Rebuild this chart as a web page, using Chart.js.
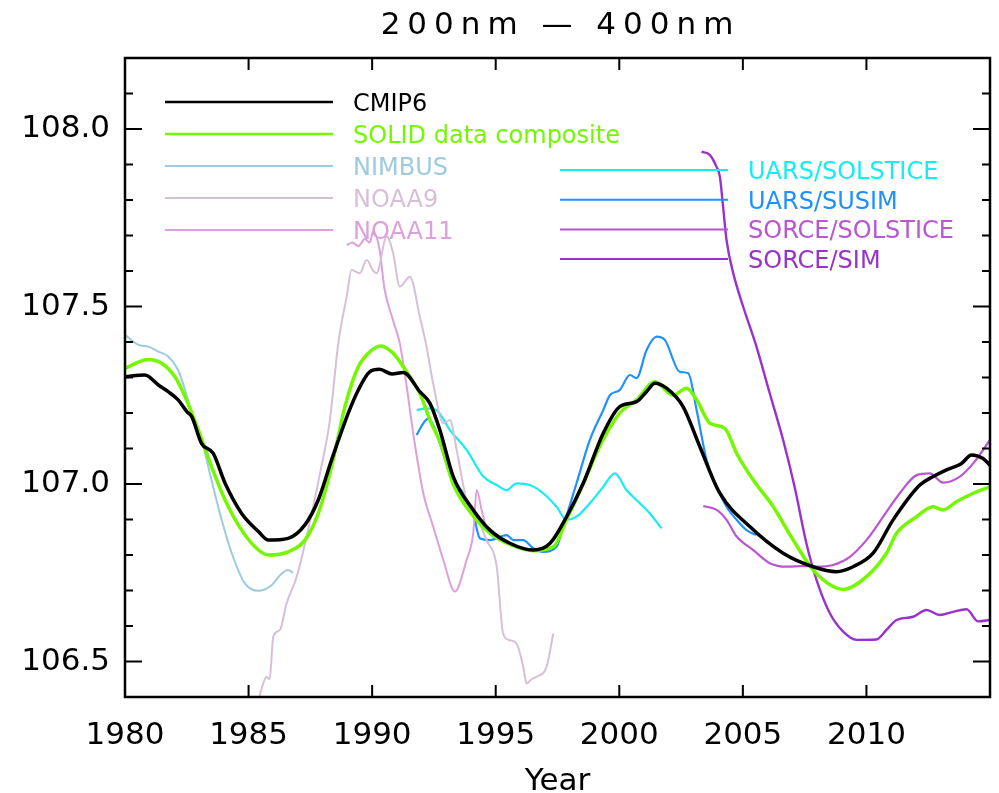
<!DOCTYPE html>
<html lang="en">
<head>
  <meta charset="UTF-8">
  <title>200nm - 400nm</title>
  <script src="https://cdn.jsdelivr.net/npm/chart.js"></script>
  <style>
    html, body { margin: 0; padding: 0; background: #fff; }
    #wrap { width: 999px; height: 793px; }
  </style>
</head>
<body>
  <div id="wrap"><canvas id="uvChart" width="999" height="793"></canvas></div>

  <script>
    // [year, irradiance] pairs for each record
    const cmip6 = [
      [1980, 107.302], [1980.8, 107.307], [1981.35, 107.279], [1981.75, 107.26], [1982.15, 107.237],
      [1982.5, 107.204], [1982.7, 107.19], [1983.1, 107.114], [1983.57, 107.086], [1984.05, 107.002],
      [1984.72, 106.917], [1985.4, 106.866], [1985.8, 106.842], [1986.6, 106.847], [1987.28, 106.885],
      [1987.82, 106.955], [1988.36, 107.068], [1989.03, 107.199], [1989.44, 107.265], [1989.9, 107.316],
      [1990.3, 107.323], [1990.8, 107.31], [1991.26, 107.314], [1991.93, 107.26], [1992.34, 107.227],
      [1992.74, 107.152], [1993.28, 107.021], [1994.09, 106.927], [1994.77, 106.87], [1995.57, 106.833],
      [1996.52, 106.814], [1997.2, 106.833], [1997.87, 106.908], [1998.54, 107.002], [1999.35, 107.143],
      [2000.02, 107.218], [2000.7, 107.232], [2001.1, 107.26], [2001.44, 107.284], [2001.91, 107.27],
      [2002.58, 107.218], [2003.26, 107.105], [2004.07, 106.974], [2005.28, 106.88], [2006.63, 106.805],
      [2007.84, 106.767], [2008.79, 106.753], [2009.46, 106.767], [2010.27, 106.805], [2011.08, 106.899],
      [2012.16, 106.997], [2012.7, 107.021], [2013.24, 107.04], [2013.85, 107.058], [2014.25, 107.082],
      [2014.72, 107.072], [2015, 107.053]
    ];

    const solid = [
      [1980, 107.326], [1980.95, 107.351], [1981.48, 107.34], [1982.02, 107.302], [1982.43, 107.246],
      [1982.97, 107.152], [1983.5, 107.049], [1984.05, 106.955], [1984.72, 106.87], [1985.4, 106.814],
      [1985.8, 106.8], [1986.6, 106.809], [1987.28, 106.842], [1987.82, 106.917], [1988.36, 107.049],
      [1988.9, 107.218], [1989.44, 107.33], [1989.98, 107.377], [1990.35, 107.389], [1990.85, 107.368],
      [1991.26, 107.33], [1991.93, 107.255], [1992.4, 107.17], [1992.74, 107.12], [1993.28, 107.0],
      [1994.09, 106.91], [1994.77, 106.861], [1995.57, 106.83], [1996.52, 106.812], [1997.33, 106.823],
      [1997.87, 106.9], [1998.54, 107.0], [1999.2, 107.105], [2000.02, 107.2], [2000.7, 107.237],
      [2001.44, 107.288], [2002.18, 107.25], [2002.72, 107.27], [2003.13, 107.237], [2003.67, 107.171],
      [2004.27, 107.157], [2004.75, 107.086], [2005.42, 107.011], [2006.23, 106.936], [2007.04, 106.842],
      [2007.84, 106.758], [2008.65, 106.711], [2009.06, 106.703], [2010.0, 106.739], [2010.81, 106.805],
      [2011.22, 106.861], [2012.03, 106.908], [2012.7, 106.936], [2013.1, 106.927], [2013.64, 106.95],
      [2014.32, 106.974], [2015, 106.992]
    ];

    const nimbus = [
      [1980, 107.42], [1980.54, 107.392], [1980.95, 107.387], [1981.35, 107.373], [1981.75, 107.359],
      [1982.15, 107.321], [1982.43, 107.265], [1982.7, 107.199], [1983.1, 107.124], [1983.5, 107.011],
      [1983.91, 106.899], [1984.32, 106.805], [1984.85, 106.72], [1985.4, 106.699], [1985.93, 106.715],
      [1986.34, 106.748], [1986.6, 106.758], [1986.8, 106.75]
    ];

    const noaa9 = [
      [1985.43, 106.40], [1985.73, 106.457], [1985.85, 106.45], [1986.0, 106.57], [1986.27, 106.589],
      [1986.54, 106.664], [1986.95, 106.739], [1987.35, 106.852], [1987.89, 107.03], [1988.29, 107.18],
      [1988.63, 107.396], [1988.97, 107.528], [1989.17, 107.603], [1989.5, 107.594], [1989.78, 107.631],
      [1990.05, 107.6], [1990.18, 107.594], [1990.59, 107.697], [1990.85, 107.65], [1991.12, 107.556],
      [1991.53, 107.584], [1991.93, 107.471], [1992.2, 107.387], [1992.47, 107.283], [1992.88, 107.171],
      [1993.15, 107.18], [1993.42, 107.096], [1993.82, 106.955], [1994.23, 106.908], [1994.63, 106.842],
      [1995.04, 106.767], [1995.3, 106.579], [1995.57, 106.56], [1995.85, 106.55], [1996.11, 106.486],
      [1996.25, 106.438], [1996.45, 106.45], [1996.65, 106.457], [1997.06, 106.486], [1997.33, 106.579]
    ];

    const noaa11 = [
      [1988.97, 107.673], [1989.2, 107.68], [1989.45, 107.67], [1989.7, 107.69], [1989.9, 107.68],
      [1990.04, 107.711], [1990.3, 107.66], [1990.5, 107.55], [1990.85, 107.46], [1991.12, 107.396],
      [1991.4, 107.274], [1991.66, 107.143], [1992.07, 106.974], [1992.47, 106.88], [1992.88, 106.786],
      [1993.35, 106.697], [1993.82, 106.786], [1994.09, 106.861], [1994.23, 106.983], [1994.43, 106.927],
      [1994.63, 106.87]
    ];

    const uarsSolstice = [
      [1991.8, 107.208], [1992.2, 107.213], [1992.6, 107.208], [1993.15, 107.152], [1993.82, 107.096],
      [1994.5, 107.021], [1995.04, 106.997], [1995.44, 106.983], [1995.85, 107.002], [1996.38, 106.997],
      [1996.92, 106.974], [1997.46, 106.936], [1997.87, 106.899], [1998.27, 106.908], [1998.81, 106.946],
      [1999.35, 106.992], [1999.82, 107.03], [2000.29, 106.983], [2000.83, 106.946], [2001.24, 106.917],
      [2001.71, 106.875]
    ];

    const uarsSusim = [
      [1991.8, 107.138], [1992.07, 107.171], [1992.27, 107.185], [1992.47, 107.166], [1992.74, 107.115],
      [1993.15, 107.03], [1993.68, 106.974], [1994.09, 106.917], [1994.36, 106.847], [1994.77, 106.842],
      [1995.44, 106.856], [1995.71, 106.842], [1996.11, 106.842], [1996.52, 106.819], [1996.92, 106.809],
      [1997.46, 106.823], [1997.73, 106.88], [1998.27, 107.002], [1998.81, 107.124], [1999.35, 107.208],
      [1999.62, 107.25], [2000.02, 107.265], [2000.43, 107.307], [2000.7, 107.298], [2001.1, 107.377],
      [2001.51, 107.415], [2001.84, 107.406], [2002.45, 107.316], [2002.79, 107.312], [2003.13, 107.208],
      [2003.53, 107.068], [2003.94, 106.992], [2004.34, 106.936], [2004.75, 106.899], [2005.15, 106.87],
      [2005.55, 106.856]
    ];

    const sorceSolstice = [
      [2003.4, 106.938], [2003.94, 106.927], [2004.34, 106.899], [2004.75, 106.852], [2005.42, 106.814],
      [2006.09, 106.777], [2006.77, 106.767], [2007.44, 106.769], [2008.11, 106.767], [2008.65, 106.772],
      [2009.33, 106.795], [2010.0, 106.842], [2010.68, 106.908], [2011.35, 106.974], [2012.03, 107.025],
      [2012.56, 107.03], [2013.1, 107.004], [2013.78, 107.021], [2014.32, 107.058], [2015, 107.124]
    ];

    const sorceSim = [
      [2003.33, 107.936], [2003.66, 107.927], [2003.93, 107.894], [2004.07, 107.866], [2004.2, 107.781],
      [2004.34, 107.687], [2004.61, 107.594], [2005.01, 107.5], [2005.55, 107.387], [2006.09, 107.255],
      [2006.63, 107.124], [2007.1, 106.99], [2007.57, 106.833], [2007.98, 106.73], [2008.52, 106.636],
      [2009.06, 106.584], [2009.6, 106.561], [2010.4, 106.562], [2010.81, 106.589], [2011.22, 106.617],
      [2011.89, 106.626], [2012.43, 106.645], [2012.97, 106.631], [2013.51, 106.64], [2014.05, 106.647],
      [2014.52, 106.613], [2015, 106.617]
    ];

    const xTickYears = [1980, 1985, 1990, 1995, 2000, 2005, 2010];
    const yTickValues = [106.5, 107.0, 107.5, 108.0];

    const FONT = "'DejaVu Sans', sans-serif";

    function toPoints(pairs) {
      return pairs.map(p => ({ x: p[0], y: p[1] }));
    }

    function series(label, pairs, color, width) {
      return {
        label: label,
        data: toPoints(pairs),
        borderColor: color,
        backgroundColor: color,
        borderWidth: width,
        pointRadius: 0,
        cubicInterpolationMode: 'monotone',
        fill: false
      };
    }

    // two legend columns drawn inside the plot box
    const legendLeft = ['CMIP6', 'SOLID data composite', 'NIMBUS', 'NOAA9', 'NOAA11'];
    const legendRight = ['UARS/SOLSTICE', 'UARS/SUSIM', 'SORCE/SOLSTICE', 'SORCE/SIM'];

    const boxPlugin = {
      id: 'idlBox',
      afterDraw(chart) {
        const ctx = chart.ctx;
        const a = chart.chartArea;
        const xs = chart.scales.x;
        const ys = chart.scales.y;

        ctx.save();
        ctx.strokeStyle = '#000';
        ctx.lineWidth = 2.5;
        ctx.strokeRect(a.left, a.top, a.right - a.left, a.bottom - a.top);

        // inward tick marks on all four sides
        ctx.lineWidth = 2;
        ctx.beginPath();
        xTickYears.forEach(v => {
          const px = xs.getPixelForValue(v);
          ctx.moveTo(px, a.bottom); ctx.lineTo(px, a.bottom - 12);
          ctx.moveTo(px, a.top); ctx.lineTo(px, a.top + 12);
        });
        for (let i = 0; i <= 18; i++) {
          const v = 106.4 + i * 0.1;
          const py = ys.getPixelForValue(v);
          const major = Math.abs(v * 2 - Math.round(v * 2)) < 1e-6;
          const len = major ? 17 : 8;
          ctx.moveTo(a.left, py); ctx.lineTo(a.left + len, py);
          ctx.moveTo(a.right, py); ctx.lineTo(a.right - len, py);
        }
        ctx.stroke();

        // title and x axis name
        ctx.fillStyle = '#000';
        ctx.textAlign = 'center';
        ctx.textBaseline = 'alphabetic';
        ctx.font = '31px ' + FONT;
        ctx.letterSpacing = '7px';
        ctx.fillText('200nm \u2014 400nm', (a.left + a.right) / 2 + 3, 34);
        ctx.letterSpacing = '0px';
        ctx.fillText('Year', (a.left + a.right) / 2, 790);

        // legend
        ctx.font = '24px ' + FONT;
        ctx.textAlign = 'left';
        const sets = chart.data.datasets;
        const drawEntry = (ds, y, x0, x1, tx) => {
          ctx.strokeStyle = ds.borderColor;
          ctx.lineWidth = ds.borderWidth > 3 ? 2.5 : 2;
          ctx.beginPath();
          ctx.moveTo(x0, y); ctx.lineTo(x1, y);
          ctx.stroke();
          ctx.fillStyle = ds.borderColor;
          ctx.fillText(ds.label, tx, y + 9);
        };
        legendLeft.forEach((name, i) => {
          const ds = sets.find(d => d.label === name);
          drawEntry(ds, 102 + i * 32, 165, 333, 353);
        });
        legendRight.forEach((name, i) => {
          const ds = sets.find(d => d.label === name);
          drawEntry(ds, 170 + i * 29.7, 560, 728, 748);
        });
        ctx.restore();
      }
    };

    const ctx = document.getElementById('uvChart').getContext('2d');
    new Chart(ctx, {
      type: 'line',
      data: {
        datasets: [
          series('CMIP6', cmip6, '#000000', 3.5),
          series('SOLID data composite', solid, '#74F800', 3.5),
          series('NIMBUS', nimbus, '#9ECAE1', 2),
          series('NOAA9', noaa9, '#D8BFD8', 2),
          series('NOAA11', noaa11, '#DDA0DD', 2),
          series('UARS/SOLSTICE', uarsSolstice, '#14EEF0', 2.2),
          series('UARS/SUSIM', uarsSusim, '#1E90FF', 2.2),
          series('SORCE/SOLSTICE', sorceSolstice, '#BA55D3', 2.2),
          series('SORCE/SIM', sorceSim, '#9932CC', 2.4)
        ]
      },
      options: {
        responsive: false,
        animation: false,
        devicePixelRatio: 1,
        layout: { padding: { top: 58, right: 9, left: 0, bottom: 0 } },
        plugins: {
          legend: { display: false },
          title: { display: false },
          tooltip: { enabled: false }
        },
        scales: {
          x: {
            type: 'linear',
            min: 1980,
            max: 2015,
            grid: { display: false, drawTicks: false },
            border: { display: false },
            afterBuildTicks: scale => { scale.ticks = xTickYears.map(v => ({ value: v })); },
            afterFit: scale => { scale.height = 96; },
            ticks: {
              color: '#000',
              font: { family: FONT, size: 31 },
              padding: 20,
              maxRotation: 0,
              autoSkip: false,
              callback: v => String(v)
            }
          },
          y: {
            min: 106.4,
            max: 108.2,
            grid: { display: false, drawTicks: false },
            border: { display: false },
            afterBuildTicks: scale => { scale.ticks = yTickValues.map(v => ({ value: v })); },
            afterFit: scale => { scale.width = 125; },
            ticks: {
              color: '#000',
              font: { family: FONT, size: 31 },
              padding: 15,
              callback: v => v.toFixed(1)
            }
          }
        }
      },
      plugins: [boxPlugin]
    });
  </script>
</body>
</html>
